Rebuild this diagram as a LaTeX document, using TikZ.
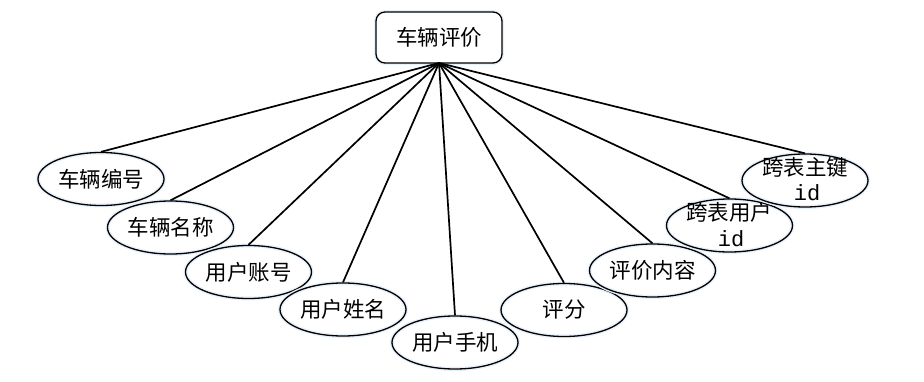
\documentclass[tikz,border=0pt]{standalone}
\usepackage{fontspec}
\newfontfamily\cjkfont{Noto Sans CJK SC}
\newfontfamily\idfont{Liberation Mono}
\usetikzlibrary{shapes.geometric}
\definecolor{halo}{RGB}{232,240,250}
\tikzset{
  attr/.style={ellipse, draw=black, line width=1.3pt, minimum width=126pt, minimum height=53pt, inner sep=0pt,
    preaction={draw=halo, line width=4pt}, font=\cjkfont\fontsize{21.5}{23}\selectfont},
  entity/.style={rectangle, rounded corners=9pt, draw=black, line width=1.3pt, minimum width=126pt, minimum height=51pt, inner sep=0pt,
    preaction={draw=halo, line width=4pt}, fill=white, font=\cjkfont\fontsize{21.5}{23}\selectfont},
  lbl/.style={inner sep=0pt, font=\cjkfont\fontsize{21.5}{23}\selectfont},
  idlbl/.style={inner sep=0pt, font=\idfont\fontsize{22}{24}\selectfont},
  link/.style={line width=1.7pt, black}
}
\begin{document}
\begin{tikzpicture}[x=1pt,y=-1pt]
\useasboundingbox (0,0) rectangle (924,382);
\node[entity] (ent) at (439,37.5) {车辆评价};
\coordinate (hub) at (439,63);
\node[attr] (a1) at (101,179) {车辆编号};
\node[attr] (a2) at (170.5,227.5) {车辆名称};
\node[attr] (a3) at (248.5,272) {用户账号};
\node[attr] (a4) at (343,309.5) {用户姓名};
\node[attr] (a5) at (455,342.5) {用户手机};
\node[attr] (a6) at (564,310) {评分};
\node[attr] (a7) at (652.5,270.5) {评价内容};
\node[attr] (a8) at (729.5,225.5) {};
\node[attr] (a9) at (805,180.5) {};
\node[lbl] (t8) at (729,212) {跨表用户};
\node[idlbl] (i8) at (731,239) {id};
\node[lbl] (t9) at (805,167) {跨表主键};
\node[idlbl] (i9) at (807,193) {id};
\foreach \n in {a1,a2,a3,a4,a5,a6,a7,a8,a9}{
  \draw[link] (hub) -- (\n.north);
}
\end{tikzpicture}
\end{document}
